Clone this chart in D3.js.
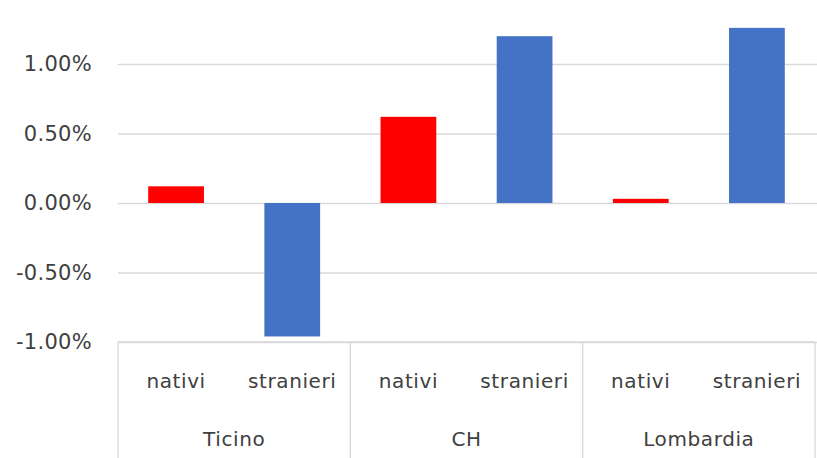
<!DOCTYPE html>
<html>
<head>
<meta charset="utf-8">
<script src="https://cdn.jsdelivr.net/npm/d3@7"></script>
<style>
  body { margin: 0; background: #fff; }
  text { font-family: "DejaVu Sans", sans-serif; fill: #404040; }
</style>
</head>
<body>
<script>
// valori (variazione %)
const regions   = ["Ticino", "CH", "Lombardia"];
const groups    = ["nativi", "stranieri"];
const nativi    = [0.0012, 0.0062, 0.0003];
const stranieri = [-0.0096, 0.0120, 0.0126];
const yTicks    = [-0.01, -0.005, 0, 0.005, 0.01];
const colors    = { nativi: "#ff0000", stranieri: "#4472c4" };

const WIDTH  = 817;
const HEIGHT = 458;
const mLeft = 118, mRight = 815, mTop = 64, mBottom = 342;

// tabella piatta: una riga per barra
let rows = [];
regions.forEach((r, i) => {
    rows.push({ key: r + "|nativi",    region: r, group: "nativi",    value: nativi[i] });
    rows.push({ key: r + "|stranieri", region: r, group: "stranieri", value: stranieri[i] });
});

let svg = d3.select('body').append('svg')
            .attr('width', WIDTH)
            .attr('height', HEIGHT);

let x = d3.scaleBand()
          .domain(rows.map(d => d.key))
          .range([mLeft, mRight])
          .paddingInner(0.52)
          .paddingOuter(0.26);

let y = d3.scaleLinear()
          .domain([-0.01, 0.01])
          .range([mBottom, mTop]);

// formato stile Excel, col trattino normale
const fmt = d => d3.format('.2%')(d).replace('\u2212', '-');

// griglia + etichette asse y
let yAxis = svg.append('g')
               .attr('transform', `translate(${mLeft},0)`)
               .call(d3.axisLeft(y)
                       .tickValues(yTicks)
                       .tickSize(-(WIDTH - mLeft))
                       .tickPadding(26)
                       .tickFormat(fmt));
yAxis.select('.domain').remove();
yAxis.selectAll('line').attr('stroke', '#d9d9d9').attr('stroke-width', 1.3);
yAxis.selectAll('text')
     .style('font-size', '21px')
     .attr('letter-spacing', '0.3px')
     .attr('fill', '#404040')
     .attr('font-family', 'DejaVu Sans');

// barre
svg.append('g')
   .selectAll('rect')
   .data(rows)
   .join('rect')
   .attr('x', d => x(d.key))
   .attr('width', x.bandwidth())
   .attr('y', d => Math.min(y(d.value), y(0)))
   .attr('height', d => Math.abs(y(d.value) - y(0)))
   .attr('fill', d => colors[d.group]);

// asse categorie (nativi / stranieri)
let xAxis = svg.append('g')
               .attr('transform', `translate(0,${mBottom})`)
               .call(d3.axisBottom(x)
                       .tickSize(0)
                       .tickPadding(32)
                       .tickFormat(k => k.split('|')[1]));
xAxis.select('.domain').remove();
xAxis.selectAll('text')
     .style('font-size', '20px')
     .attr('letter-spacing', '0.6px')
     .attr('fill', '#404040')
     .attr('font-family', 'DejaVu Sans');

// riquadro dei gruppi
svg.append('line')
   .attr('x1', mLeft).attr('x2', mRight)
   .attr('y1', mBottom).attr('y2', mBottom)
   .attr('stroke', '#d9d9d9').attr('stroke-width', 1.3);

let groupEdges = regions.map((r, i) => x(r + "|nativi") - x.step() * x.paddingOuter());
groupEdges.push(mRight);
svg.append('g')
   .selectAll('line')
   .data(groupEdges)
   .join('line')
   .attr('x1', d => d).attr('x2', d => d)
   .attr('y1', mBottom).attr('y2', HEIGHT)
   .attr('stroke', '#d9d9d9').attr('stroke-width', 1.3);

svg.append('g')
   .selectAll('text')
   .data(regions)
   .join('text')
   .attr('x', (r, i) => (groupEdges[i] + groupEdges[i + 1]) / 2)
   .attr('y', 446)
   .attr('text-anchor', 'middle')
   .style('font-size', '20px')
   .attr('letter-spacing', '0.6px')
   .text(d => d);
</script>
</body>
</html>
